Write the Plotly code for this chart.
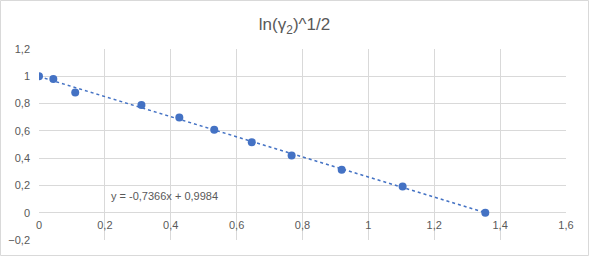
import plotly.graph_objects as go

x_vals = [0.0, 0.0435, 0.110, 0.311, 0.426, 0.532, 0.646, 0.767, 0.919, 1.104, 1.355]
y_vals = [1.0, 0.980, 0.882, 0.790, 0.697, 0.608, 0.517, 0.419, 0.315, 0.192, 0.0]
slope = -0.7366
intercept = 0.9984
trend_x = [0.0, 1.355]
trend_y = [slope * v + intercept for v in trend_x]
eq_text = "y = -0,7366x + 0,9984"

W, H = 589, 256
ml, mr, mt, mb = 39, 23, 49, 16
blue = "#4472C4"
grey = "#595959"

fig = go.Figure()
fig.add_trace(go.Scatter(x=trend_x, y=trend_y, mode="lines",
                         line=dict(color=blue, width=1.5, dash="dot"),
                         hoverinfo="skip", showlegend=False))
fig.add_trace(go.Scatter(x=x_vals, y=y_vals, mode="markers",
                         marker=dict(color=blue, size=8),
                         showlegend=False))

fig.add_annotation(x=0.382, y=0.12, text=eq_text, showarrow=False,
                   font=dict(size=11, color=grey), xanchor="center", yanchor="middle")

pw = W - ml - mr
ph = H - mt - mb
fig.add_shape(type="rect", xref="paper", yref="paper",
              x0=(-ml + 0.5) / pw, x1=(pw + mr - 0.5) / pw,
              y0=(-mb + 0.5) / ph, y1=(ph + mt - 0.5) / ph,
              line=dict(color="#D9D9D9", width=1), layer="below")

fig.update_layout(
    width=W, height=H,
    margin=dict(l=ml, r=mr, t=mt, b=mb, autoexpand=False),
    paper_bgcolor="white", plot_bgcolor="white",
    separators=", ",
    font=dict(family="Liberation Sans, Arial, sans-serif", color=grey, size=11),
    title=dict(text="ln(γ<sub>2</sub>)^1/2", x=0.5, xanchor="center",
               y=1 - 24 / H, yanchor="middle",
               font=dict(size=17, color=grey)),
    xaxis=dict(range=[0, 1.6], dtick=0.2, showgrid=True, gridcolor="#D9D9D9",
               gridwidth=1, zeroline=False, showline=False, automargin=False,
               anchor="free", position=0.2 / 1.4, ticks="", ticklabelstandoff=4,
               tickfont=dict(size=11, color=grey)),
    yaxis=dict(range=[-0.2, 1.2], dtick=0.2, showgrid=True, gridcolor="#D9D9D9",
               gridwidth=1, zeroline=True, zerolinecolor="#D9D9D9", zerolinewidth=1,
               showline=False, ticks="", automargin=False, ticklabelstandoff=8,
               tickfont=dict(size=11, color=grey)),
)

fig.write_html("out.html", config={"displayModeBar": False},
               post_script="document.body.style.margin='0';")
